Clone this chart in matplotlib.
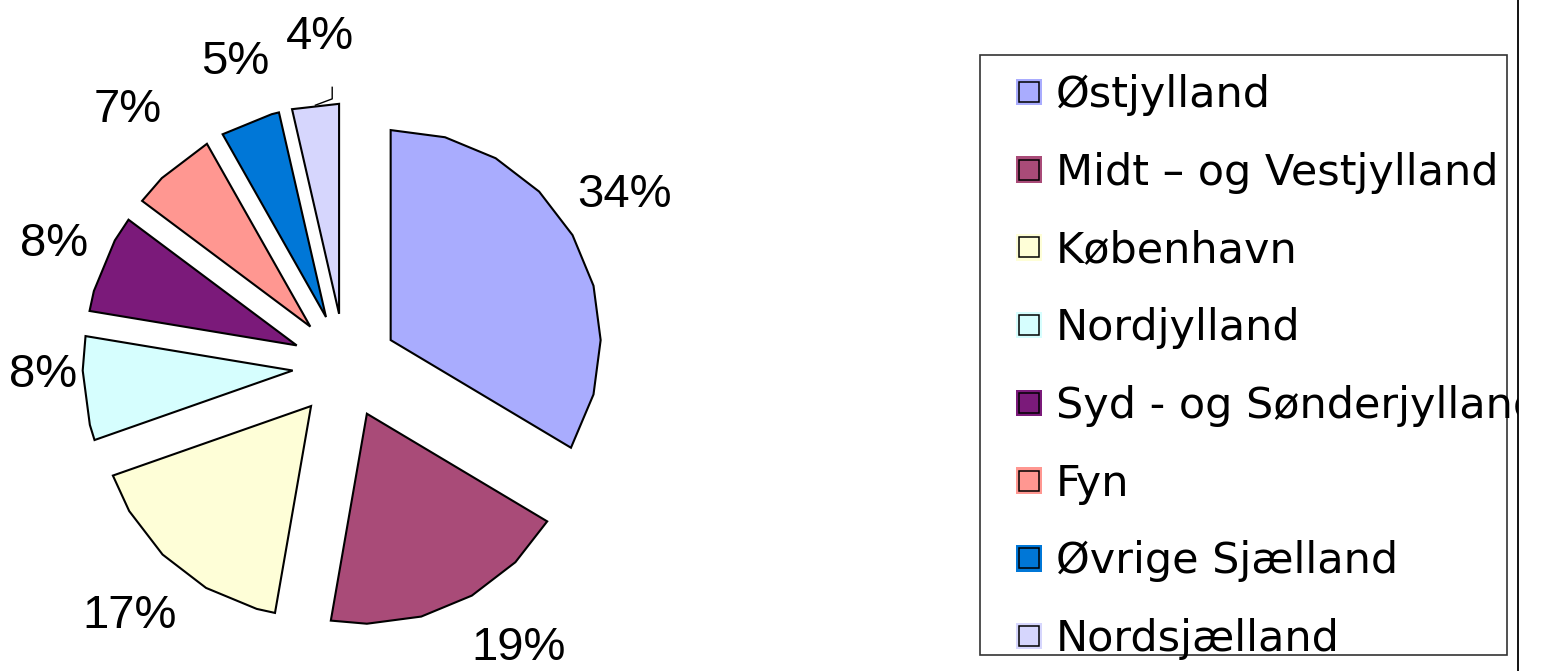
import numpy as np
import matplotlib
matplotlib.use("Agg")
import matplotlib.pyplot as plt
from matplotlib.patches import Polygon, Rectangle, Patch
from matplotlib.lines import Line2D
from matplotlib.legend_handler import HandlerBase
from matplotlib.transforms import Bbox, TransformedBbox

# ---- data ----
regions = ["Østjylland", "Midt – og Vestjylland", "København", "Nordjylland",
           "Syd - og Sønderjylland", "Fyn", "Øvrige Sjælland", "Nordsjælland"]
shares = [33.6, 19.2, 16.9, 8.0, 7.6, 6.6, 4.6, 3.6]
colors = ["#A9ACFE", "#A94B78", "#FEFED7", "#D6FEFE",
          "#7B1A7A", "#FF9791", "#0077D7", "#D6D6FD"]

# label placement styling (distance from pie centre in radii, angle nudge in degrees)
label_dist = [1.56, 1.575, 1.57, 1.44, 1.50, 1.60, 1.54, 1.57]
label_turn = [1.8, 7.0, -0.5, -3.2, 0.4, -1.0, -1.3, -2.1]

W, H = 1564, 671
fig = plt.figure(figsize=(W / 100, H / 100), dpi=100)
R = 210.0
ax = fig.add_axes([0, 0, 760 / W, 1])

wedges, texts, autotexts = ax.pie(
    shares, explode=[0.25] * len(shares), startangle=90, counterclock=False,
    colors=colors, autopct=lambda p: f"{p:.0f}%", pctdistance=1.30,
    wedgeprops=dict(edgecolor="black", linewidth=1.5),
    textprops=dict(fontsize=34, family="Liberation Sans", color="black"))
ax.set_aspect("auto")
ax.set_xlim(-345 / R, 415 / R)
ax.set_ylim(-305 / R, 366 / R)
ax.axis("off")

for w, t, d, turn in zip(wedges, autotexts, label_dist, label_turn):
    a = np.radians((w.theta1 + w.theta2) / 2 + turn)
    t.set_position((d * np.cos(a), d * np.sin(a)))
    t.set_ha("center")
    t.set_va("center")

# polygonal arcs like the original rendering
for w in wedges:
    cx, cy = w.center
    r = w.r
    t1, t2 = w.theta1, w.theta2
    grid = [a for a in np.arange(np.ceil(t1 / 15) * 15, t2, 15) if t1 + 2 < a < t2 - 2]
    angs = np.radians([t1] + grid + [t2])
    pts = [(cx, cy)] + [(cx + r * np.cos(a), cy + r * np.sin(a)) for a in angs]
    ax.add_patch(Polygon(pts, closed=True, facecolor=w.get_facecolor(),
                         edgecolor="black", linewidth=1.5, zorder=2,
                         joinstyle="miter"))
    w.set_visible(False)

# small leader line for the last slice label
w = wedges[-1]
mid = np.radians((w.theta1 + w.theta2) / 2)
p0 = (w.center[0] + w.r * np.cos(mid), w.center[1] + w.r * np.sin(mid))
p1 = (p0[0] + 0.08, p0[1] + 0.03)
p2 = (p1[0], p1[1] + 0.055)
ax.plot([p0[0], p1[0], p2[0]], [p0[1], p1[1], p2[1]], color="black", lw=1.0)


# ---- legend ----
class SquareHandler(HandlerBase):
    def create_artists(self, legend, orig_handle, xdescent, ydescent,
                       width, height, fontsize, trans):
        c = orig_handle.get_facecolor()
        cx = -xdescent + width / 2
        cy = -ydescent + height / 2
        so, si = 19.0, 14.5
        outer = Rectangle((cx - so / 2, cy - so / 2), so, so, facecolor=c,
                          edgecolor="none", transform=trans)
        inner = Rectangle((cx - si / 2, cy - si / 2), si, si, facecolor=c,
                          edgecolor="black", linewidth=1.1, transform=trans)
        return [outer, inner]


handles = [Patch(facecolor=c) for c in colors]
leg = fig.legend(handles, regions, handler_map={Patch: SquareHandler()},
                 loc="upper left", bbox_to_anchor=(1015 / W, 1 - 74 / H),
                 frameon=False, prop=dict(family="DejaVu Sans", size=31),
                 handlelength=0.65, handletextpad=0.3, labelspacing=0.83,
                 borderpad=0, borderaxespad=0)
clipbb = TransformedBbox(Bbox.from_extents(0, 0, 1518 / W, 1), fig.transFigure)
for t in leg.get_texts():
    t.set_clip_box(clipbb)
    t.set_clip_on(True)

fig.add_artist(Rectangle((980 / W, 1 - 655 / H), 527 / W, 600 / H,
                         transform=fig.transFigure, fill=False,
                         edgecolor="#333333", linewidth=1.2))
fig.add_artist(Line2D([1518 / W] * 2, [0, 1], transform=fig.transFigure,
                      color="black", linewidth=1.3))

fig.savefig("out.png", dpi=100)
